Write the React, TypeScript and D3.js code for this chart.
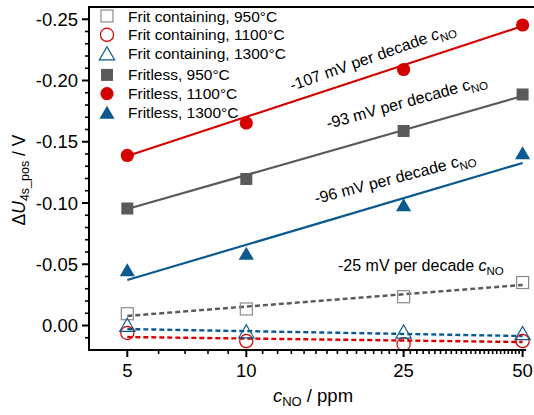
import * as d3 from "d3";

// NO concentration in ppm
const concentrations = [5, 10, 25, 50];

// ΔU_4s_pos in V
const frit950 = [-0.0096, -0.0135, -0.0235, -0.0351];
const frit1100 = [0.0061, 0.0127, 0.0153, 0.0127];
const frit1300 = [-0.0004, 0.0049, 0.0051, 0.0064];
const fritless950 = [-0.0955, -0.1196, -0.1588, -0.1886];
const fritless1100 = [-0.1388, -0.1653, -0.209, -0.2453];
const fritless1300 = [-0.0453, -0.0588, -0.0984, -0.1408];

// fitted lines, value at 5 ppm and at 50 ppm
const fitEnds = [5, 50];
const fitFrit950 = [-0.0078, -0.0331];
const fitFrit1100 = [0.0094, 0.0135];
const fitFrit1300 = [0.0029, 0.0086];
const fitFritless950 = [-0.0951, -0.1873];
const fitFritless1100 = [-0.1384, -0.2445];
const fitFritless1300 = [-0.0371, -0.1327];

const xTicks = [5, 10, 25, 50];
const yTicks = [0, -0.05, -0.1, -0.15, -0.2, -0.25];

const RED = "#d40000";
const GREY = "#5a5a5a";
const BLUE = "#0b5a8e";
const FONT = "Liberation Sans, Arial, sans-serif";

const series = [
  {name: "Frit containing, 950°C", values: frit950, fit: fitFrit950, color: GREY, edge: "#8a8a8a", shape: "square", filled: false},
  {name: "Frit containing, 1100°C", values: frit1100, fit: fitFrit1100, color: RED, edge: RED, shape: "circle", filled: false},
  {name: "Frit containing, 1300°C", values: frit1300, fit: fitFrit1300, color: BLUE, edge: BLUE, shape: "triangle", filled: false},
  {name: "Fritless, 950°C", values: fritless950, fit: fitFritless950, color: GREY, edge: GREY, shape: "square", filled: true},
  {name: "Fritless, 1100°C", values: fritless1100, fit: fitFritless1100, color: RED, edge: RED, shape: "circle", filled: true},
  {name: "Fritless, 1300°C", values: fritless1300, fit: fitFritless1300, color: BLUE, edge: BLUE, shape: "triangle", filled: true},
];

const x = d3.scaleLog().domain([4, 51]).range([89, 526]);
const y = d3.scaleLinear().domain([0.02, -0.26]).range([350, 7]);

const Marker = ({shape, filled, color, cx, cy}: any) => {
  const fill = filled ? color : "none";
  const sw = filled ? 0 : 1.2;
  if (shape === "square")
    return <rect x={cx - 6} y={cy - 6} width={12} height={12} fill={fill} stroke={color} strokeWidth={sw}/>;
  if (shape === "circle")
    return <circle cx={cx} cy={cy} r={6.6} fill={fill} stroke={color} strokeWidth={sw}/>;
  return <path d={`M${cx},${cy - 6.8}L${cx + 7.6},${cy + 6.3}L${cx - 7.6},${cy + 6.3}Z`} fill={fill} stroke={color} strokeWidth={sw}/>;
};

const Slope = ({label, tx, ty, angle, italic}: any) => (
  <text transform={`translate(${tx},${ty}) rotate(${angle})`} fontSize={16} fontFamily={FONT}>
    {label}
    <tspan fontStyle={italic ? "italic" : "normal"}>c</tspan>
    <tspan fontSize={11.5} dy={4}>NO</tspan>
  </text>
);

export default function App() {
  const line = d3.line<number>().x((d, i) => x(fitEnds[i])).y(d => y(d));
  const xMinor = d3.range(5, 51).filter(v => !xTicks.includes(v));
  const yMinor = d3.range(1, -26, -1).filter(v => v % 5 !== 0).map(v => v / 100);
  const [x0, x1] = x.range();
  const [yb, yt] = y.range();

  return (
    <svg width={534} height={415} style={{position: "absolute", left: 0, top: 0, background: "#fff"}}>
      {/* fitted lines */}
      {series.map((s, i) => (
        <path key={"f" + i} d={line(s.fit) as string} fill="none" stroke={s.color}
              strokeWidth={s.filled ? 2.2 : 2.4} strokeDasharray={s.filled ? undefined : "5,3"}/>
      ))}
      {/* data points */}
      {series.map((s, i) => s.values.map((v, j) => (
        <Marker key={i + "-" + j} shape={s.shape} filled={s.filled} color={s.edge}
                cx={x(concentrations[j])} cy={y(v)}/>
      )))}

      {/* frame */}
      <line x1={x0} x2={534} y1={yt} y2={yt} stroke="#000" strokeWidth={2}/>
      <line x1={x0} x2={x0} y1={yt - 1} y2={yb + 1} stroke="#000" strokeWidth={2}/>
      <line x1={x0 - 1} x2={x1} y1={yb} y2={yb} stroke="#000" strokeWidth={2}/>

      {/* x axis */}
      {xTicks.map(t => (
        <g key={"xt" + t}>
          <line x1={x(t)} x2={x(t)} y1={yb} y2={yb + 7} stroke="#000" strokeWidth={2}/>
          <text x={x(t)} y={377} textAnchor="middle" fontSize={18.5} fontFamily={FONT}>{t}</text>
        </g>
      ))}
      {xMinor.map(t => (
        <line key={"xm" + t} x1={x(t)} x2={x(t)} y1={yb} y2={yb + 4} stroke="#000" strokeWidth={1.6}/>
      ))}

      {/* y axis */}
      {yTicks.map(t => (
        <g key={"yt" + t}>
          <line x1={x0} x2={x0 - 7} y1={y(t)} y2={y(t)} stroke="#000" strokeWidth={2}/>
          <text x={78} y={y(t)} dy="0.36em" textAnchor="end" fontSize={18.5} fontFamily={FONT}>{t.toFixed(2)}</text>
        </g>
      ))}
      {yMinor.map(t => (
        <line key={"ym" + t} x1={x0} x2={x0 - 4} y1={y(t)} y2={y(t)} stroke="#000" strokeWidth={1.6}/>
      ))}

      {/* axis titles */}
      <text transform="translate(25,180) rotate(-90)" textAnchor="middle" fontSize={17.5} fontFamily={FONT}>
        Δ<tspan fontStyle="italic">U</tspan>
        <tspan fontSize={12.5} dy={4}>4s_pos</tspan>
        <tspan dy={-4}> / V</tspan>
      </text>
      <text x={313} y={402} textAnchor="middle" fontSize={18.5} fontFamily={FONT}>
        <tspan fontStyle="italic">c</tspan>
        <tspan fontSize={13} dy={4}>NO</tspan>
        <tspan dy={-4}> / ppm</tspan>
      </text>

      {/* slope notes */}
      <Slope label="-107 mV per decade " tx={292} ty={91} angle={-19.5} italic={true}/>
      <Slope label="-93 mV per decade " tx={328} ty={129} angle={-15.5} italic={false}/>
      <Slope label="-96 mV per decade " tx={316} ty={204} angle={-14.6} italic={false}/>
      <Slope label="-25 mV per decade " tx={338} ty={271} angle={0} italic={true}/>

      {/* legend */}
      {series.map((s, i) => {
        const ly = 16 + i * 18.8 + (i >= 3 ? 2.5 : 0);
        return (
          <g key={"lg" + i}>
            <Marker shape={s.shape} filled={s.filled} color={s.edge} cx={107} cy={ly}/>
            <text x={128} y={ly} dy="0.36em" fontSize={15.5} fontFamily={FONT}>{s.name}</text>
          </g>
        );
      })}
    </svg>
  );
}
